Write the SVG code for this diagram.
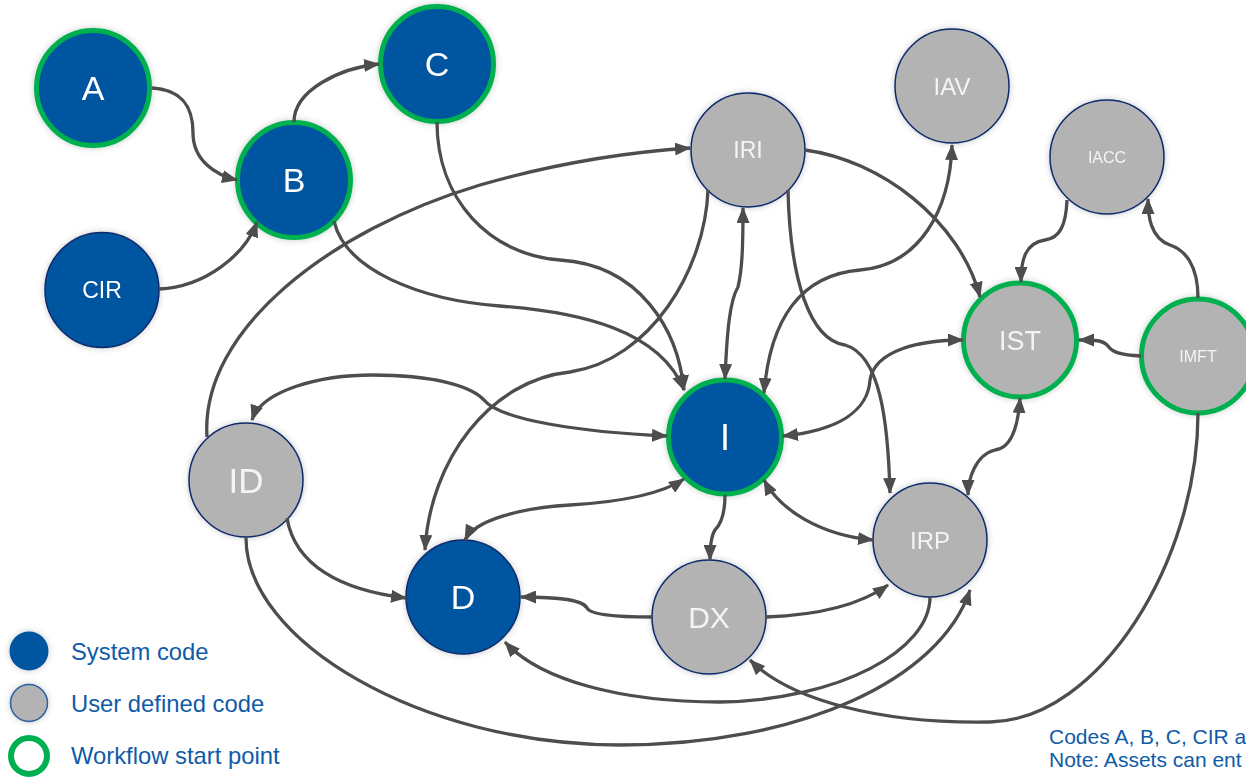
<svg xmlns="http://www.w3.org/2000/svg" width="1246" height="777" viewBox="0 0 1246 777">
<defs>
<filter id="sh" x="-20%" y="-20%" width="140%" height="140%">
<feDropShadow dx="0" dy="0" stdDeviation="3" flood-color="#000" flood-opacity="0.22"/>
</filter>
<marker id="ah" markerUnits="userSpaceOnUse" viewBox="0 0 16 13" refX="15" refY="6.5" markerWidth="16" markerHeight="13" orient="auto-start-reverse">
<path d="M0,0 L16,6.5 L0,13 z" fill="#4d4d4d"/>
</marker>
<style>
.sys{fill:#0054a0;stroke:#0d2b6b;stroke-width:1.5}
.usr{fill:#b3b3b3;stroke:#0d2b6b;stroke-width:1.5}
.start{stroke:#00b050;stroke-width:5}
.lbl{font-family:"Liberation Sans",Arial,sans-serif;fill:#ffffff;text-anchor:middle}
.ulbl{fill:#f4f4f4}
.e{fill:none;stroke:#4d4d4d;stroke-width:3.3}
.one{marker-end:url(#ah)}
.two{marker-end:url(#ah);marker-start:url(#ah)}
.leg{font-family:"Liberation Sans",Arial,sans-serif;fill:#0f5ba7;font-size:23.8px}
.note{font-family:"Liberation Sans",Arial,sans-serif;fill:#0f5ba7;font-size:21px}
</style>
</defs>
<rect width="1246" height="777" fill="#ffffff"/>

<g id="node-A" filter="url(#sh)"><ellipse cx="93" cy="88" rx="56.5" ry="57.5" class="sys start"/><text x="93" y="100" font-size="34" class="lbl">A</text></g>
<g id="node-B" filter="url(#sh)"><ellipse cx="294" cy="180" rx="56.5" ry="57.5" class="sys start"/><text x="294" y="192" font-size="34" class="lbl">B</text></g>
<g id="node-C" filter="url(#sh)"><ellipse cx="437" cy="64" rx="56.5" ry="57.5" class="sys start"/><text x="437" y="76" font-size="34" class="lbl">C</text></g>
<g id="node-CIR" filter="url(#sh)"><ellipse cx="102" cy="290" rx="57" ry="57.5" class="sys"/><text x="102" y="298" font-size="23" class="lbl">CIR</text></g>
<g id="node-IRI" filter="url(#sh)"><ellipse cx="748" cy="150" rx="57" ry="57" class="usr"/><text x="748" y="158" font-size="23" class="lbl ulbl">IRI</text></g>
<g id="node-IAV" filter="url(#sh)"><ellipse cx="952" cy="86" rx="57" ry="57" class="usr"/><text x="952" y="95" font-size="24" class="lbl ulbl">IAV</text></g>
<g id="node-IACC" filter="url(#sh)"><ellipse cx="1107" cy="157" rx="57" ry="57" class="usr"/><text x="1107" y="163" font-size="16" class="lbl ulbl">IACC</text></g>
<g id="node-IST" filter="url(#sh)"><ellipse cx="1020" cy="340" rx="56.5" ry="57" class="usr start"/><text x="1020" y="350" font-size="27" class="lbl ulbl">IST</text></g>
<g id="node-IMFT" filter="url(#sh)"><ellipse cx="1198" cy="356" rx="56.5" ry="57" class="usr start"/><text x="1198" y="362" font-size="16" class="lbl ulbl">IMFT</text></g>
<g id="node-I" filter="url(#sh)"><ellipse cx="725" cy="437" rx="56.5" ry="57" class="sys start"/><text x="725" y="450" font-size="36" class="lbl">I</text></g>
<g id="node-ID" filter="url(#sh)"><ellipse cx="246" cy="480" rx="57" ry="57" class="usr"/><text x="246" y="493" font-size="35" class="lbl ulbl">ID</text></g>
<g id="node-D" filter="url(#sh)"><ellipse cx="463" cy="597" rx="57" ry="57" class="sys"/><text x="463" y="609" font-size="34" class="lbl">D</text></g>
<g id="node-DX" filter="url(#sh)"><ellipse cx="709" cy="617" rx="57" ry="57" class="usr"/><text x="709" y="628" font-size="30" class="lbl ulbl">DX</text></g>
<g id="node-IRP" filter="url(#sh)"><ellipse cx="930" cy="540" rx="57" ry="57" class="usr"/><text x="930" y="549" font-size="24" class="lbl ulbl">IRP</text></g>

<g id="connectors">
<path class="e one" d="M152,88 C185,90 193,110 193,133 C193,160 215,175 237,180"/>
<path class="e one" d="M294,122 C294,90 340,68 379,64"/>
<path class="e one" d="M159,289 C205,287 245,255 257,222"/>
<path class="e one" d="M437,122 C437,200 490,255 560,260 C640,265 678,330 684,390"/>
<path class="e one" d="M334,221 C345,270 420,300 500,306 C580,312 660,330 684,390"/>
<path class="e one" d="M207,437 C200,330 330,230 480,185 C560,162 630,152 690,148"/>
<path class="e two" d="M252,420 C262,390 320,375 373,375 C430,375 470,385 484,400 C500,420 580,432 667,436"/>
<path class="e one" d="M708,190 C705,270 650,360 570,372 C490,380 430,460 425,550"/>
<path class="e two" d="M743,208 C743,250 742,270 738,287 C730,300 727,330 725,379"/>
<path class="e one" d="M805,150 C880,160 960,220 980,297"/>
<path class="e two" d="M764,393 C770,320 800,275 860,270 C920,265 950,210 952,145"/>
<path class="e one" d="M788,190 C790,280 810,340 845,345 C880,355 888,420 890,493"/>
<path class="e two" d="M783,436 C840,430 868,410 870,380 C875,350 920,340 963,340"/>
<path class="e one" d="M1067,200 C1066,225 1060,238 1045,240 C1025,243 1021,260 1021,282"/>
<path class="e one" d="M1198,298 C1198,265 1185,250 1170,245 C1150,238 1148,215 1148,199"/>
<path class="e one" d="M1141,356 C1120,355 1112,352 1108,346 C1103,340 1095,340 1079,340"/>
<path class="e two" d="M1020,398 C1018,430 1010,448 995,450 C975,455 968,480 968,495"/>
<path class="e two" d="M764,480 C780,510 820,535 873,540"/>
<path class="e one" d="M725,495 C725,515 720,525 715,530 C711,536 710,545 710,560"/>
<path class="e two" d="M684,479 C660,495 620,502 570,505 C520,508 475,520 465,540"/>
<path class="e one" d="M287,518 C295,565 340,590 406,598"/>
<path class="e one" d="M652,617 C620,617 590,615 587,608 C583,600 560,597 521,597"/>
<path class="e one" d="M766,617 C820,615 860,605 888,585"/>
<path class="e one" d="M930,597 C930,650 840,700 720,702 C620,702 540,680 505,642"/>
<path class="e one" d="M246,537 C245,640 420,745 620,745 C800,745 940,680 970,590"/>
<path class="e one" d="M1198,413 C1198,560 1100,720 990,722 C880,724 790,700 750,660"/>
</g>

<g id="legend">
<circle cx="29" cy="651" r="19.5" fill="#0054a0" filter="url(#sh)"/>
<circle cx="29" cy="703" r="18.5" fill="#b3b3b3" stroke="#2a5ea0" stroke-width="1.5" filter="url(#sh)"/>
<circle cx="29" cy="756" r="18" fill="none" stroke="#00b050" stroke-width="6"/>
<text x="71" y="660" class="leg">System code</text>
<text x="71" y="712" class="leg">User defined code</text>
<text x="71" y="764" class="leg">Workflow start point</text>
</g>
<g id="note">
<text x="1049" y="744" class="note">Codes A, B, C, CIR a</text>
<text x="1049" y="767" class="note">Note: Assets can ent</text>
</g>
</svg>
